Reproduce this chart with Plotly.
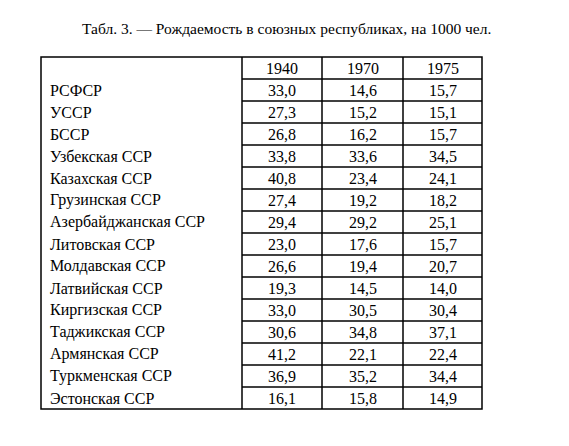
import plotly.graph_objects as go

title = "Табл. 3. — Рождаемость в союзных республиках, на 1000 чел."
years = ["1940", "1970", "1975"]
republics = ["РСФСР", "УССР", "БССР", "Узбекская ССР", "Казахская ССР", "Грузинская ССР",
             "Азербайджанская ССР", "Литовская ССР", "Молдавская ССР", "Латвийская ССР",
             "Киргизская ССР", "Таджикская ССР", "Армянская ССР", "Туркменская ССР", "Эстонская ССР"]
v1940 = [33.0, 27.3, 26.8, 33.8, 40.8, 27.4, 29.4, 23.0, 26.6, 19.3, 33.0, 30.6, 41.2, 36.9, 16.1]
v1970 = [14.6, 15.2, 16.2, 33.6, 23.4, 19.2, 29.2, 17.6, 19.4, 14.5, 30.5, 34.8, 22.1, 35.2, 15.8]
v1975 = [15.7, 15.1, 15.7, 34.5, 24.1, 18.2, 25.1, 15.7, 20.7, 14.0, 30.4, 37.1, 22.4, 34.4, 14.9]

W, H = 569, 446
off = 8  # page body margin
xL, xC = 41, [242, 322, 403, 482]
yT, rh = 57, 22
n = len(republics)
yB = yT + rh * (n + 1)
fam = "Liberation Serif, Times New Roman, serif"
font = dict(family=fam, size=16, color="black")
line = dict(color="black", width=1.5)

fig = go.Figure()
fig.add_trace(go.Scatter(x=[100], y=[100], mode="markers", marker=dict(opacity=0), hoverinfo="skip"))
shapes = [dict(type="rect", x0=xL, x1=xC[-1], y0=yT, y1=yB, line=line, xref="x", yref="y")]
for xc in xC[:-1]:
    shapes.append(dict(type="line", x0=xc, x1=xc, y0=yT, y1=yB, line=line, xref="x", yref="y"))
for i in range(1, n + 1):
    y = yT + rh * i
    shapes.append(dict(type="line", x0=xC[0], x1=xC[-1], y0=y, y1=y, line=line, xref="x", yref="y"))
ann = [dict(x=80, y=28, text=title, showarrow=False, xanchor="left", yanchor="middle",
            font=dict(family=fam, size=15.5, color="black"))]
for j, yr in enumerate(years):
    ann.append(dict(x=(xC[j] + xC[j + 1]) / 2, y=yT + rh / 2, text=yr, showarrow=False, font=font))
for i, name in enumerate(republics):
    yc = yT + rh * (i + 1.5)
    ann.append(dict(x=48, y=yc, text=name, showarrow=False, xanchor="left", font=font))
    for j, vals in enumerate([v1940, v1970, v1975]):
        ann.append(dict(x=(xC[j] + xC[j + 1]) / 2, y=yc, text=f"{vals[i]:.1f}".replace(".", ","),
                        showarrow=False, font=font))
fig.update_layout(width=W - 2 * off, height=H - 2 * off, margin=dict(l=0, r=0, t=0, b=0),
                  shapes=shapes, annotations=ann,
                  plot_bgcolor="white", paper_bgcolor="white", showlegend=False,
                  xaxis=dict(range=[off, W - off], visible=False, fixedrange=True),
                  yaxis=dict(range=[H - off, off], visible=False, fixedrange=True))
fig.write_html("out.html", config={"displayModeBar": False})
